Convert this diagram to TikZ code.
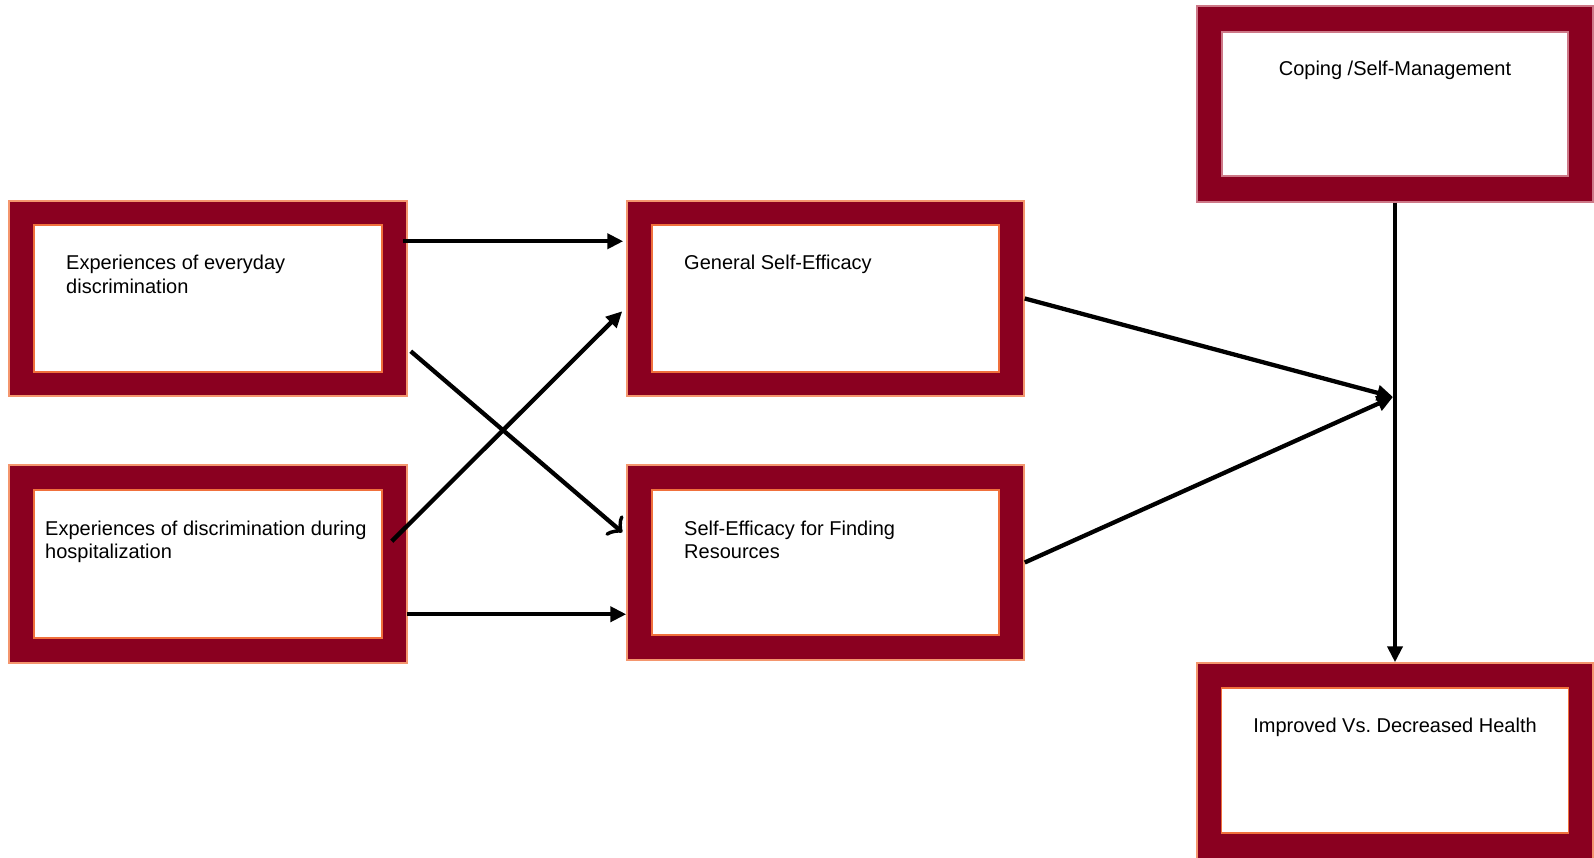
\documentclass[tikz,border=0pt]{standalone}
\usepackage{fontspec}
\setmainfont{Liberation Sans}
\usetikzlibrary{arrows.meta,calc}
\definecolor{frameRed}{RGB}{138,0,32}
\definecolor{edgeOrange}{RGB}{240,112,60}
\definecolor{edgeLight}{RGB}{244,150,110}
\definecolor{edgePink}{RGB}{205,120,135}
\tikzset{
  outerbox/.style={draw=edgeLight, fill=frameRed, line width=1.5pt, inner sep=0pt, minimum width=#1},
  innerbox/.style={draw=edgeOrange, fill=white, line width=1.5pt, inner sep=0pt},
  boxtext/.style={inner sep=0pt, align=left, font=\fontsize{20}{23.5}\selectfont, text=black},
  link/.style={line width=4.3pt, -{Triangle[length=16pt,width=15pt]}},
  barblink/.style={line width=4.3pt, -{Classical TikZ Rightarrow[length=12pt,width=26pt,line cap=round]}}
}
\begin{document}
\begin{tikzpicture}[x=1pt,y=-1pt]
\useasboundingbox (0,0) rectangle (1594,858);
% outer frames
\node[outerbox=398pt, minimum height=195pt] (ev) at (208,298.5) {};
\node[outerbox=398pt, minimum height=198pt] (ho) at (208,564) {};
\node[outerbox=397pt, minimum height=195pt] (gs) at (825.5,298.5) {};
\node[outerbox=397pt, minimum height=195pt] (sf) at (825.5,562.5) {};
\node[outerbox=396pt, minimum height=196pt, draw=edgePink] (co) at (1395,104) {};
\node[outerbox=396pt, minimum height=196pt] (im) at (1395,761) {};
% inner panels
\node[innerbox, minimum width=348pt, minimum height=147pt] (evi) at (208,298.5) {};
\node[innerbox, minimum width=348pt, minimum height=148pt] (hoi) at (208,564) {};
\node[innerbox, minimum width=347pt, minimum height=147pt] (gsi) at (825.5,298.5) {};
\node[innerbox, minimum width=347pt, minimum height=145pt] (sfi) at (825.5,562.5) {};
\node[innerbox, minimum width=346pt, minimum height=144pt, draw=edgePink] (coi) at (1395,104) {};
\node[innerbox, minimum width=347pt, minimum height=145pt] (imi) at (1395,760.5) {};
% texts (base anchor of two-line nodes = baseline of the last line)
\node[boxtext, anchor=base west] (evt) at (66,293.5) {Experiences of everyday\\discrimination};
\node[boxtext, anchor=base west] (hot) at (45,558.5) {Experiences of discrimination during\\hospitalization};
\node[boxtext, anchor=base west] (gst) at (684,270) {General Self-Efficacy};
\node[boxtext, anchor=base west] (sft) at (684,558.5) {Self-Efficacy for Finding\\Resources};
\node[boxtext, anchor=base] (cot) at (1395,76) {Coping /Self-Management};
\node[boxtext, anchor=base] (imt) at (1395,732) {Improved Vs.\ Decreased Health};
% junction on the vertical connector
\coordinate (j) at (1393,397);
% connectors
\draw[link] ($(ev.north east)+(-5,41)$) -- ($(gs.north west)+(-3,41)$);
\draw[link] ($(ho.north east)+(-16,77)$) -- ($(gs.north west)+(-4,111)$);
\draw[barblink] ($(ev.north east)+(3,151)$) -- ($(sf.north west)+(-4,68)$);
\draw[link] ($(ho.north east)+(-1,150)$) -- ($(sf.north west)+(0,150)$);
\draw[link] (gs.east) -- (j);
\draw[link] (sf.east) -- (j);
\draw[link] (co.south) -- (im.north);
\end{tikzpicture}
\end{document}
